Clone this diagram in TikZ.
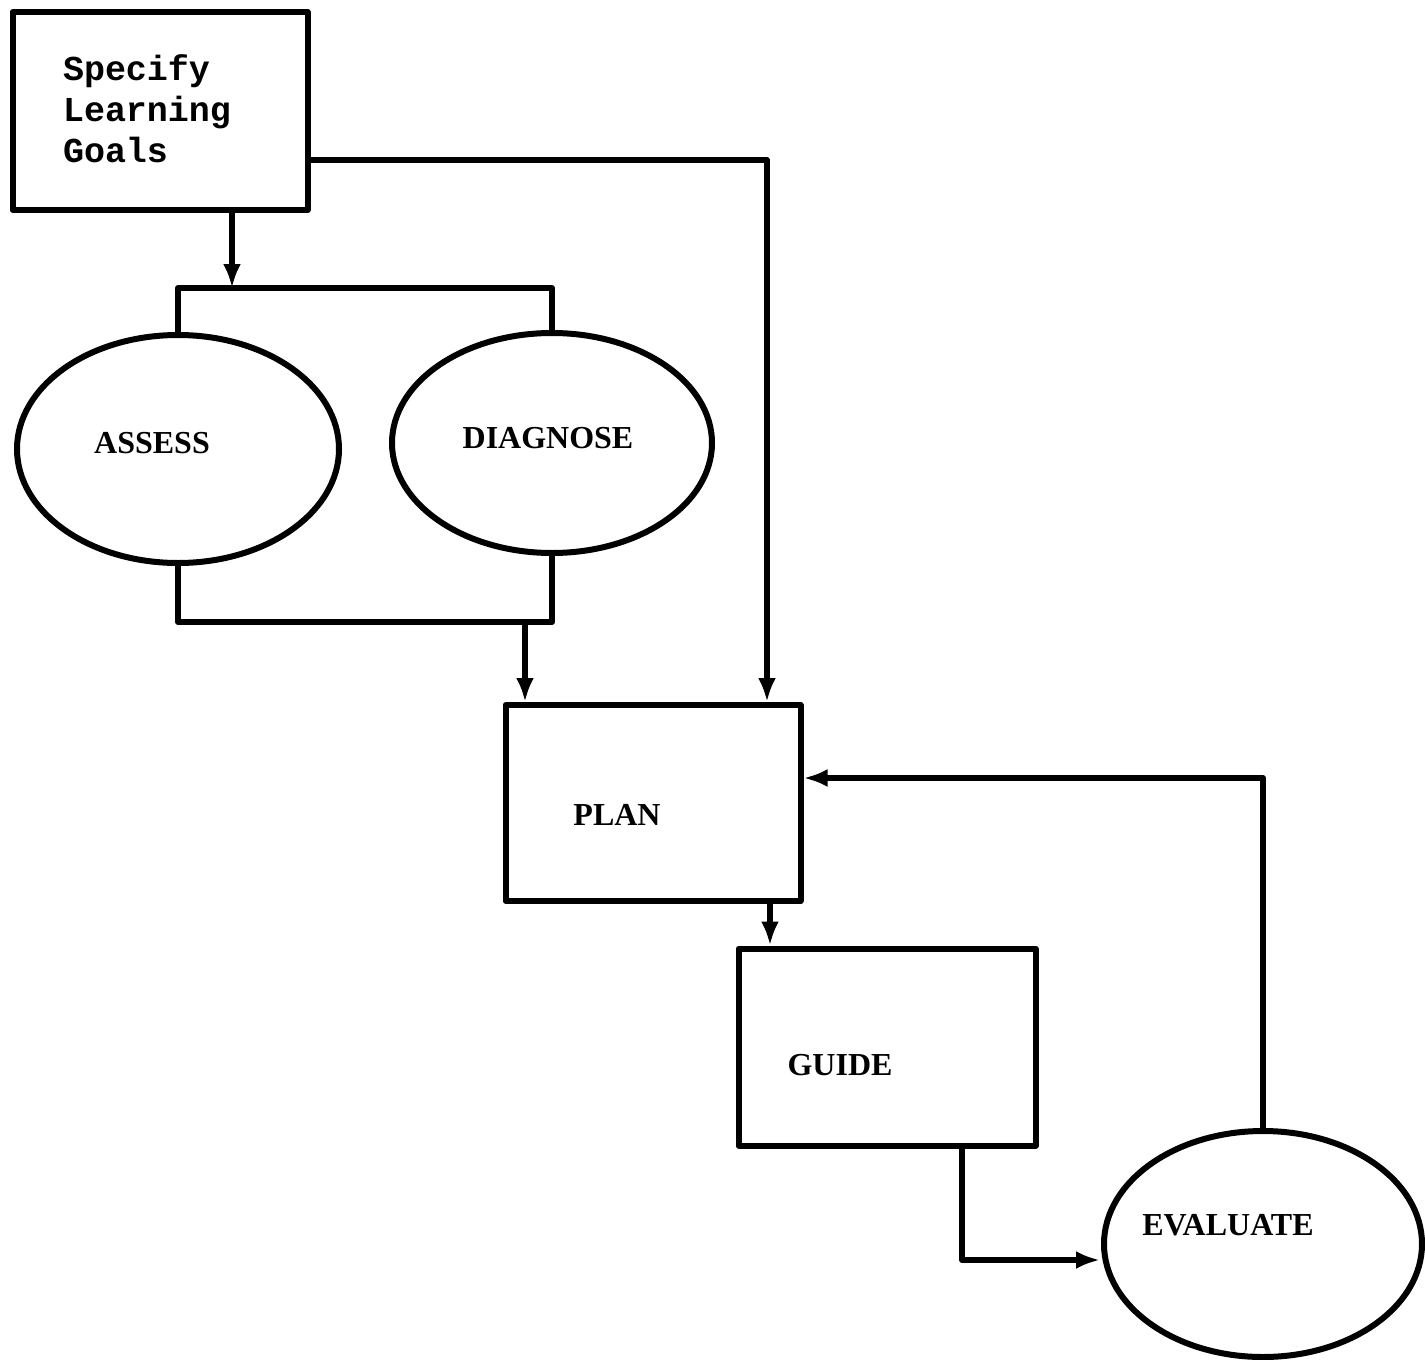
\documentclass[tikz,border=0pt]{standalone}
\usepackage{fontspec}
\setmainfont{Liberation Serif}
\newfontfamily\twfont{Liberation Mono}
\usetikzlibrary{shapes.geometric,arrows.meta}
\begin{document}
\begin{tikzpicture}[x=1pt,y=-1pt,
  line width=6pt,
  boxnode/.style={draw,rectangle,inner sep=0pt},
  ovalnode/.style={draw,ellipse,inner sep=0pt},
  lbl/.style={font=\fontsize{32}{36}\selectfont\bfseries},
  arr/.style={-{Latex[length=24pt,width=18pt]}},
  line join=round]
\useasboundingbox (0,0) rectangle (1425,1360);
\node[boxnode,minimum width=295pt,minimum height=198pt] (spec) at (160,111) {};
\node[anchor=north west,align=left,font=\twfont\fontsize{35}{41}\selectfont\bfseries,inner sep=0pt] (spectxt) at (60,52) {Specify\\Learning\\Goals};
\node[ovalnode,minimum width=322pt,minimum height=228pt] (assess) at (178,449) {};
\node[lbl] (assesstxt) at (152,443) {ASSESS};
\node[ovalnode,minimum width=320pt,minimum height=220pt] (diag) at (552,443) {};
\node[lbl] (diagtxt) at (548,438) {DIAGNOSE};
\node[boxnode,minimum width=295pt,minimum height=196pt] (plan) at (653,803) {};
\node[lbl] (plantxt) at (617,815) {PLAN};
\node[boxnode,minimum width=297pt,minimum height=197pt] (guide) at (887,1047) {};
\node[lbl] (guidetxt) at (840,1065) {GUIDE};
\node[ovalnode,minimum width=318pt,minimum height=226pt] (eval) at (1263,1244) {};
\node[lbl] (evaltxt) at (1228,1225) {EVALUATE};
% connectors
\coordinate (k1) at (767,160);
\draw[arr] (spec.east |- k1) -- (k1) -- (k1 |- plan.north);
\coordinate (bt) at (232,288);
\draw[arr] (spec.south -| bt) -- (bt);
\draw (assess.north) -- (assess.north |- bt) -- (diag.north |- bt) -- (diag.north);
\coordinate (bb) at (525,622);
\draw (assess.south) -- (assess.south |- bb) -- (diag.south |- bb) -- (diag.south);
\draw[arr] (bb) -- (bb |- plan.north);
\coordinate (fb) at (1260,778);
\draw[arr] (eval.north) -- (eval.north |- fb) -- (plan.east |- fb);
\coordinate (g1) at (770,925);
\draw[arr] (plan.south -| g1) -- (guide.north -| g1);
\coordinate (g2) at (962,1260);
\draw[arr] (guide.south -| g2) -- (g2) -- ([xshift=-1pt]eval.west |- g2);
\end{tikzpicture}
\end{document}
